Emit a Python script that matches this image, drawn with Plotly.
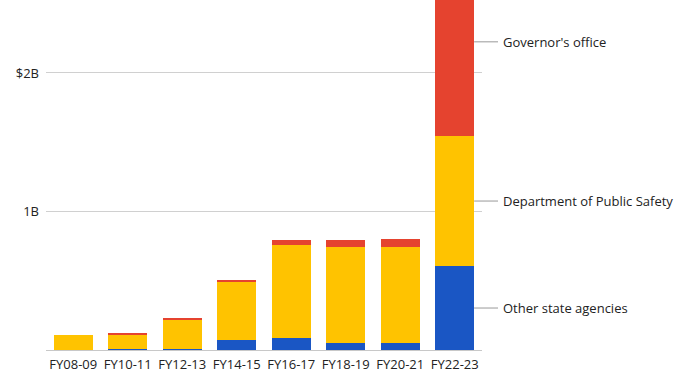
import plotly.graph_objects as go

categories = ["FY08-09", "FY10-11", "FY12-13", "FY14-15", "FY16-17", "FY18-19", "FY20-21", "FY22-23"]
other_agencies = [0.002, 0.010, 0.010, 0.072, 0.087, 0.050, 0.050, 0.606]
public_safety = [0.106, 0.098, 0.207, 0.426, 0.671, 0.694, 0.694, 0.939]
governor = [0.0, 0.015, 0.007, 0.007, 0.036, 0.050, 0.057, 1.36]

series_names = ["Other state agencies", "Department of Public Safety", "Governor's office"]
series_values = [other_agencies, public_safety, governor]
colors = ["#1A56C4", "#FFC300", "#E5432F"]

tick_vals = [1, 2]
tick_text = ["1B", "$2B"]

FONT = "Open Sans"
W, H = 683, 375
ml, mr, mt, mb = 46, 201, 0, 25

fig = go.Figure()
for name, vals, col in zip(series_names, series_values, colors):
    fig.add_trace(go.Bar(x=categories, y=vals, name=name, marker=dict(color=col, line=dict(width=0)),
                         showlegend=False))

bargap = 0.29
n = len(categories)
pw = W - ml - mr
bar_right = (n - 1 + 0.5 + (1 - bargap) / 2) / n
line_end = 1 + 16 / pw
text_x = 1 + 19 / pw

cum = 0
for name, vals in zip(series_names, series_values):
    v = vals[-1]
    mid = cum + v / 2
    cum += v
    fig.add_shape(type="line", xref="paper", yref="y", x0=bar_right, x1=line_end, y0=mid, y1=mid,
                  line=dict(color="#999999", width=1))
    fig.add_annotation(xref="paper", yref="y", x=text_x, y=mid, text=name, showarrow=False,
                       xanchor="left", yanchor="middle", font=dict(family=FONT, size=13, color="#222222"))

fig.update_layout(
    barmode="stack",
    bargap=bargap,
    width=W, height=H,
    margin=dict(l=ml, r=mr, t=mt, b=mb),
    plot_bgcolor="white", paper_bgcolor="white",
    font=dict(family=FONT, size=13, color="#222222"),
    xaxis=dict(type="category", showgrid=False, ticks="", tickfont=dict(size=13, color="#222222"),
               showline=False, ticklabelstandoff=5),
    yaxis=dict(range=[0, 2.527], tickvals=tick_vals, ticktext=tick_text, showgrid=True,
               gridcolor="#d0d0d0", gridwidth=1, zeroline=True, zerolinecolor="#c8c8c8", zerolinewidth=1,
               ticks="", tickfont=dict(size=13, color="#222222"), ticklabelstandoff=6),
)

fig.write_html("out.html", config={"displayModeBar": False},
               post_script="document.body.style.margin='0';")
